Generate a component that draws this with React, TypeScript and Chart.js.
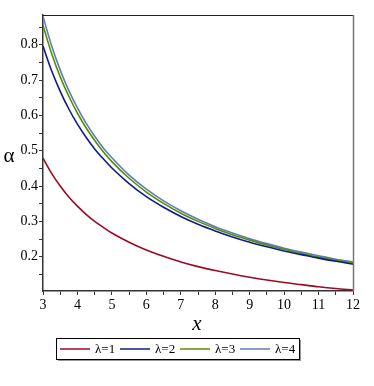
import React, { useEffect, useRef } from "react";
import { Chart, registerables } from "chart.js";

Chart.register(...registerables);

const xValues = [3, 3.25, 3.5, 3.75, 4, 4.25, 4.5, 4.75, 5, 5.5, 6, 6.5, 7, 7.5, 8, 8.5, 9, 9.5, 10, 10.5, 11, 11.5, 12];
const lambda1 = [0.479, 0.436, 0.4, 0.369, 0.343, 0.32, 0.3, 0.283, 0.267, 0.241, 0.219, 0.201, 0.185, 0.172, 0.161, 0.151, 0.142, 0.134, 0.127, 0.121, 0.115, 0.11, 0.106];
const lambda2 = [0.796, 0.726, 0.668, 0.618, 0.575, 0.538, 0.505, 0.477, 0.451, 0.407, 0.37, 0.34, 0.314, 0.292, 0.273, 0.256, 0.241, 0.228, 0.216, 0.206, 0.196, 0.187, 0.179];
const lambda3 = [0.855, 0.775, 0.709, 0.654, 0.606, 0.565, 0.529, 0.497, 0.469, 0.422, 0.383, 0.351, 0.323, 0.3, 0.28, 0.262, 0.247, 0.233, 0.221, 0.209, 0.199, 0.19, 0.182];
const lambda4 = [0.88, 0.797, 0.728, 0.67, 0.621, 0.578, 0.541, 0.508, 0.48, 0.431, 0.391, 0.358, 0.33, 0.306, 0.285, 0.267, 0.251, 0.237, 0.224, 0.213, 0.203, 0.193, 0.185];

const seriesLabels = ["λ=1", "λ=2", "λ=3", "λ=4"];
const seriesColors = ["#9b0a23", "#0c1b8e", "#5a8c00", "#5b7fb9"];

const xTicks = [3, 3.5, 4, 4.5, 5, 5.5, 6, 6.5, 7, 7.5, 8, 8.5, 9, 9.5, 10, 10.5, 11, 11.5, 12];
const yTicks = [0.15, 0.2, 0.25, 0.3, 0.35, 0.4, 0.45, 0.5, 0.55, 0.6, 0.65, 0.7, 0.75, 0.8, 0.85];
const yLabelTicks = [0.2, 0.3, 0.4, 0.5, 0.6, 0.7, 0.8];

const FONT = '"Liberation Serif", "Liberation Sans", Arial, sans-serif';

const decorPlugin = {
  id: "decor",
  afterDraw(chart: any) {
    const ctx = chart.ctx;
    const a = chart.chartArea;
    ctx.save();
    ctx.strokeStyle = "#222";
    ctx.lineWidth = 1;
    ctx.beginPath();
    ctx.moveTo(a.left, a.top + 0.5);
    ctx.lineTo(a.right, a.top + 0.5);
    ctx.stroke();
    ctx.strokeStyle = "#777";
    ctx.lineWidth = 1.5;
    ctx.beginPath();
    ctx.moveTo(a.right + 0.5, a.top);
    ctx.lineTo(a.right + 0.5, a.bottom);
    ctx.stroke();

    ctx.fillStyle = "#000";
    ctx.textAlign = "center";
    ctx.textBaseline = "middle";
    ctx.font = `italic 21px ${FONT}`;
    ctx.fillText("x", 197, 324);
    ctx.font = `21px ${FONT}`;
    ctx.fillText("α", 9, 156);

    const bx = 56, by = 338, bw = 243, bh = 21;
    ctx.fillStyle = "#999";
    ctx.fillRect(bx + 2, by + bh, bw, 2);
    ctx.fillRect(bx + bw, by + 2, 2, bh);
    ctx.fillStyle = "#fff";
    ctx.fillRect(bx, by, bw, bh);
    ctx.strokeStyle = "#000";
    ctx.lineWidth = 1;
    ctx.strokeRect(bx + 0.5, by + 0.5, bw, bh);
    ctx.font = `13px ${FONT}`;
    ctx.textAlign = "left";
    ctx.textBaseline = "middle";
    seriesLabels.forEach((lab, i) => {
      const x0 = 60 + i * 60;
      const yc = by + bh / 2 + 0.5;
      ctx.strokeStyle = seriesColors[i];
      ctx.lineWidth = 1.5;
      ctx.beginPath();
      ctx.moveTo(x0, yc);
      ctx.lineTo(x0 + 30, yc);
      ctx.stroke();
      ctx.fillStyle = "#000";
      ctx.fillText(lab, x0 + 35, yc + 1);
    });
    ctx.restore();
  },
};

export default function App() {
  const ref = useRef<HTMLCanvasElement | null>(null);
  useEffect(() => {
    if (!ref.current) return;
    let chart: any = null;
    let cancelled = false;
    const build = () => {
      if (cancelled || !ref.current) return;
      const series = [lambda1, lambda2, lambda3, lambda4];
      chart = new Chart(ref.current, {
        type: "line",
        data: {
          datasets: series.map((s, i) => ({
            label: seriesLabels[i],
            data: xValues.map((x, j) => ({ x, y: s[j] })),
            borderColor: seriesColors[i],
            backgroundColor: seriesColors[i],
            borderWidth: 1.6,
            pointRadius: 0,
            cubicInterpolationMode: "monotone" as const,
            fill: false,
          })),
        },
        options: {
          animation: false,
          responsive: true,
          maintainAspectRatio: false,
          layout: { padding: { left: 0, top: 15, right: 21, bottom: 66 } },
          plugins: { legend: { display: false }, tooltip: { enabled: false } },
          scales: {
            x: {
              type: "linear",
              min: 3,
              max: 12,
              afterBuildTicks: (s: any) => {
                s.ticks = xTicks.map((v) => ({ value: v }));
              },
              afterFit: (s: any) => {
                s.height = 29;
              },
              ticks: {
                autoSkip: false,
                maxRotation: 0,
                color: "#000",
                padding: 2,
                font: { family: FONT, size: 14 },
                callback: (v: any) => (Number.isInteger(v) ? String(v) : ""),
              },
              grid: { display: true, drawOnChartArea: false, tickLength: 4, color: "#333" },
              border: { display: true, color: "#333", width: 1.5 },
            },
            y: {
              type: "linear",
              min: 0.103,
              max: 0.884,
              afterBuildTicks: (s: any) => {
                s.ticks = yTicks.map((v) => ({ value: v }));
              },
              afterFit: (s: any) => {
                s.width = 43;
              },
              ticks: {
                autoSkip: false,
                color: "#000",
                padding: 1,
                font: { family: FONT, size: 14 },
                callback: (v: any) => {
                  const hit = yLabelTicks.find((t) => Math.abs(t - v) < 1e-6);
                  return hit !== undefined ? hit.toFixed(1) : "";
                },
              },
              grid: { display: true, drawOnChartArea: false, tickLength: 4, color: "#333" },
              border: { display: true, color: "#333", width: 1.5 },
            },
          },
        },
        plugins: [decorPlugin],
      });
    };
    const fonts: any = (document as any).fonts;
    if (fonts && fonts.load) {
      Promise.all([
        fonts.load('14px "Liberation Serif"'),
        fonts.load('14px "Liberation Sans"'),
        fonts.load('italic 21px "Liberation Sans"'),
      ])
        .catch(() => null)
        .then(() => build());
    } else {
      build();
    }
    return () => {
      cancelled = true;
      if (chart) chart.destroy();
    };
  }, []);
  return (
    <div style={{ position: "absolute", left: 0, top: 0, width: 374, height: 386, background: "#fff" }}>
      <canvas ref={ref} />
    </div>
  );
}
